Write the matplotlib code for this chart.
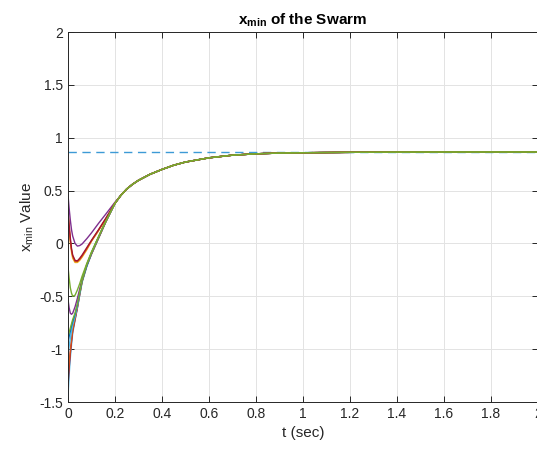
import matplotlib
matplotlib.use("Agg")
import matplotlib.pyplot as plt
from matplotlib.ticker import FormatStrFormatter

plt.rcParams['font.family'] = ['Liberation Sans', 'DejaVu Sans']
plt.rcParams['mathtext.fontset'] = 'custom'
plt.rcParams['mathtext.rm'] = 'Liberation Sans'
plt.rcParams['mathtext.it'] = 'Liberation Sans'
plt.rcParams['mathtext.bf'] = 'Liberation Sans:bold'
plt.rcParams['axes.unicode_minus'] = False

# time samples for the early (diverse) part of each trajectory
t_head = [0, 0.005, 0.01, 0.015, 0.02, 0.03, 0.04, 0.05, 0.06, 0.08, 0.1, 0.13, 0.16, 0.2]
# shared tail once all particles have merged
t_tail = [0.225, 0.25, 0.275, 0.3, 0.35, 0.4, 0.45, 0.5, 0.6, 0.7, 0.8, 0.9, 1.0, 1.2, 1.4, 1.7, 2.0]
x_tail = [0.455, 0.515, 0.56, 0.597, 0.655, 0.70, 0.74, 0.77, 0.81, 0.835, 0.848, 0.855, 0.858, 0.862, 0.864, 0.865, 0.865]

target = 0.865

particles = [
    ("#4DBEEE", [-1.45, -1.24, -1.08, -0.96, -0.85, -0.73, -0.61, -0.49, -0.37, -0.22, -0.10, 0.05, 0.20, 0.38]),
    ("#A2142F", [-1.35, -1.18, -1.04, -0.93, -0.83, -0.72, -0.61, -0.48, -0.36, -0.21, -0.10, 0.05, 0.20, 0.38]),
    ("#D95319", [-1.27, -1.13, -1.01, -0.91, -0.82, -0.71, -0.60, -0.48, -0.36, -0.21, -0.10, 0.05, 0.20, 0.38]),
    ("#4DBEEE", [-1.05, -0.97, -0.90, -0.83, -0.77, -0.69, -0.59, -0.47, -0.35, -0.21, -0.095, 0.055, 0.205, 0.38]),
    ("#0072BD", [-0.93, -0.88, -0.83, -0.78, -0.74, -0.67, -0.58, -0.46, -0.35, -0.21, -0.09, 0.06, 0.205, 0.38]),
    ("#7E2F8E", [-0.53, -0.61, -0.66, -0.67, -0.66, -0.60, -0.52, -0.43, -0.34, -0.20, -0.09, 0.06, 0.205, 0.38]),
    ("#7E2F8E", [0.46, 0.33, 0.22, 0.13, 0.07, 0.00, -0.025, -0.02, -0.005, 0.045, 0.10, 0.19, 0.275, 0.39]),
    ("#EDB120", [0.26, 0.13, 0.01, -0.08, -0.14, -0.18, -0.18, -0.16, -0.13, -0.06, 0.02, 0.12, 0.225, 0.38]),
    ("#D95319", [0.28, 0.15, 0.03, -0.06, -0.12, -0.17, -0.17, -0.15, -0.12, -0.05, 0.025, 0.125, 0.23, 0.38]),
    ("#A2142F", [0.31, 0.17, 0.05, -0.05, -0.11, -0.16, -0.165, -0.14, -0.11, -0.04, 0.03, 0.13, 0.235, 0.38]),
    ("#77AC30", [-0.88, -0.84, -0.80, -0.76, -0.72, -0.66, -0.57, -0.46, -0.35, -0.20, -0.09, 0.06, 0.205, 0.38]),
    ("#77AC30", [-0.22, -0.33, -0.42, -0.47, -0.50, -0.49, -0.44, -0.38, -0.31, -0.19, -0.08, 0.065, 0.205, 0.38]),
]

fig = plt.figure(figsize=(5.37, 4.51), dpi=100)
ax = fig.add_axes([0.1266, 0.1086, 0.875, 0.8204])

ax.plot([0, 2], [target, target], "--", color="#3D9AD6", lw=1.0, dashes=(6, 4))
for color, head in particles:
    ax.plot(t_head + t_tail, head + x_tail, color=color, lw=1.0)

ax.set_xlim(0, 2)
ax.set_ylim(-1.5, 2)
ax.set_xticks([0, 0.2, 0.4, 0.6, 0.8, 1.0, 1.2, 1.4, 1.6, 1.8, 2.0])
ax.set_yticks([-1.5, -1, -0.5, 0, 0.5, 1, 1.5, 2])
ax.xaxis.set_major_formatter(FormatStrFormatter('%g'))
ax.yaxis.set_major_formatter(FormatStrFormatter('%g'))
ax.tick_params(direction="in", length=4, width=0.7, labelsize=10, top=True, right=True,
               colors="#262626")
ax.grid(True, color="#e3e3e3", lw=0.7)
ax.set_axisbelow(True)
for s in ax.spines.values():
    s.set_linewidth(0.7)
    s.set_color("#262626")

ax.set_xlabel("t (sec)", fontsize=11, color="#262626")
ax.set_ylabel(r"$\mathrm{x_{min}}$ Value", fontsize=11, color="#262626", labelpad=2)
ax.set_title(r"$\mathbf{x_{min}}$ of the Swarm", fontsize=11, fontweight="bold", pad=5)

fig.savefig("out.png", dpi=100)
plt.close(fig)
